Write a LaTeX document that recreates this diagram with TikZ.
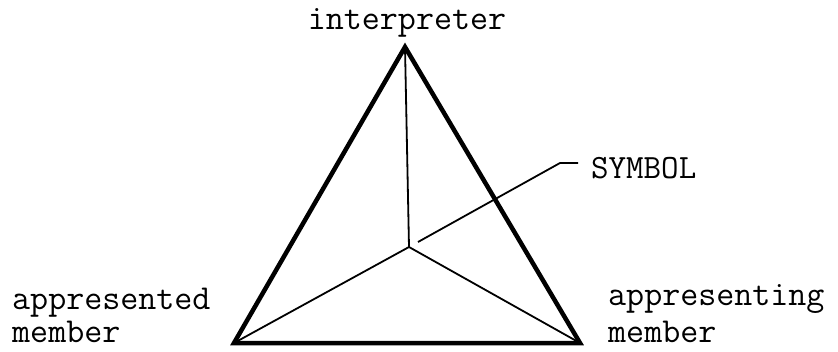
\documentclass[tikz,border=0pt]{standalone}
\usepackage{fontspec}
\begin{document}
\begin{tikzpicture}[x=1pt,y=-1pt,
  lbl/.style={font=\ttfamily\fontsize{35}{29}\selectfont, inner sep=0pt, anchor=base west},
  thickedge/.style={line width=4.5pt, line join=miter},
  thinedge/.style={line width=1.8pt}]
\useasboundingbox (0,0) rectangle (838,351);
\coordinate (I) at (405,47);
\coordinate (L) at (234,343);
\coordinate (R) at (580,343);
\coordinate (C) at (409,247);
\coordinate (s0) at (418,242);
\coordinate (s1) at (560,163);
\coordinate (s2) at (578,163);
\draw[thickedge] (I) -- (L) -- (R) -- cycle;
\draw[thinedge] (I) -- (C);
\draw[thinedge] (C) -- (L);
\draw[thinedge] (C) -- (R);
\draw[thinedge] (s0) -- (s1) -- (s2);
\node[lbl, anchor=base] (interp) at (407,29) {interpreter};
\node[lbl, font=\ttfamily\fontsize{34}{29}\selectfont] (sym) at (591,178) {SYMBOL};
\node[lbl] (aped1) at (12,309) {appresented};
\node[lbl] (aped2) at (12,342) {member};
\node[lbl] (aping1) at (608,305) {appresenting};
\node[lbl] (aping2) at (608,342) {member};
\end{tikzpicture}
\end{document}
